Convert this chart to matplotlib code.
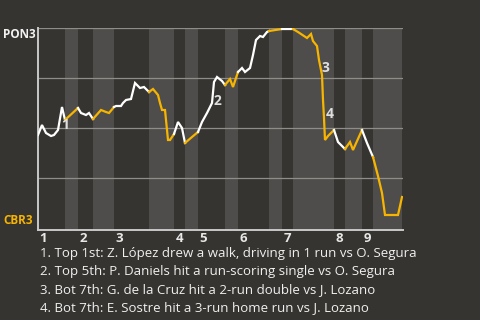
import matplotlib
matplotlib.use("Agg")
import matplotlib.pyplot as plt

# game progress (0 = first pitch) and PON3 win probability
prog = [0, 4, 8, 13, 16, 20, 24, 27,
        40, 43, 48, 51, 55,
        63, 68, 71, 76,
        78, 83, 85, 88, 93, 97, 102, 106, 111,
        115, 120, 122, 124, 127, 130, 132, 136,
        140, 144, 147,
        154, 160,
        164, 169, 174, 176, 179, 184, 187,
        192, 195, 200,
        204, 207, 212, 215, 218, 222, 225, 229, 231,
        244,
        255,
        260, 269, 273, 275, 279, 281, 284, 285, 286, 287, 290, 296,
        300, 307,
        312, 315, 324,
        329, 335,
        340, 344, 347, 360, 364]
wp = [0.465, 0.515, 0.475, 0.46, 0.465, 0.49, 0.605, 0.54,
      0.60, 0.575, 0.565, 0.575, 0.545,
      0.59, 0.58, 0.575, 0.605,
      0.61, 0.61, 0.625, 0.64, 0.645, 0.725, 0.70, 0.705, 0.68,
      0.695, 0.665, 0.625, 0.59, 0.59, 0.44, 0.44, 0.47,
      0.53, 0.50, 0.425,
      0.455, 0.48,
      0.53, 0.575, 0.625, 0.73, 0.755, 0.735, 0.715,
      0.745, 0.705, 0.78,
      0.80, 0.78, 0.80, 0.865, 0.94, 0.96, 0.955, 0.98, 0.985,
      0.995,
      0.995,
      0.98, 0.95, 0.97, 0.935, 0.91, 0.84, 0.765, 0.64, 0.55, 0.44, 0.46, 0.49,
      0.43, 0.395,
      0.43, 0.39, 0.49,
      0.425, 0.355,
      0.26, 0.175, 0.065, 0.065, 0.155]

# half-inning boundaries on the same progress scale (top, bottom, top, ...)
half_ends = [0, 27, 40, 55, 76, 111, 136, 147, 160, 187, 200, 231, 244,
             255, 296, 307, 324, 335, 364]
innings = ["1", "2", "3", "4", "5", "6", "7", "8", "9"]

# key plays: label, progress, win probability
key_labels = ["1", "2", "3", "4"]
key_prog = [27, 179, 287, 292]
key_wp = [0.515, 0.635, 0.80, 0.57]

notes = [
    "1. Top 1st: Z. López drew a walk, driving in 1 run vs O. Segura",
    "2. Top 5th: P. Daniels hit a run-scoring single vs O. Segura",
    "3. Bot 7th: G. de la Cruz hit a 2-run double vs J. Lozano",
    "4. Bot 7th: E. Sostre hit a 3-run home run vs J. Lozano",
]

bg = "#363430"
stripe = "#4e4d4b"
orange = "#f7b500"
plt.rcParams["font.family"] = ["Open Sans", "DejaVu Sans"]

fig = plt.figure(figsize=(4.8, 3.2), dpi=100, facecolor=bg)
ax = fig.add_axes([38 / 480, 1 - 230 / 320, 365 / 480, 202 / 320])
ax.set_facecolor(bg)
ax.set_xlim(0, 365)
ax.set_ylim(-0.01, 1.0)

for i in range(len(half_ends) - 1):
    if i % 2 == 1:
        ax.axvspan(half_ends[i], half_ends[i + 1], color=stripe, lw=0, zorder=0)

for g in [0.25, 0.5, 0.75, 1.0]:
    ax.axhline(g, color="#8e8d8a", lw=0.9, zorder=1)

# line coloured by the half inning: white for top, orange for bottom
for i in range(len(half_ends) - 1):
    a, b = half_ends[i], half_ends[i + 1]
    xs = [p for p in prog if a <= p <= b]
    ys = [w for p, w in zip(prog, wp) if a <= p <= b]
    ax.plot(xs, ys, color="white" if i % 2 == 0 else orange, lw=1.6,
            solid_joinstyle="miter", zorder=3)

for lab, x, y in zip(key_labels, key_prog, key_wp):
    ax.text(x, y, lab, color="#dedede", fontsize=10, fontweight="bold",
            ha="center", va="center", zorder=4)

for sp in ["top", "right"]:
    ax.spines[sp].set_visible(False)
for sp in ["left", "bottom"]:
    ax.spines[sp].set_color("#c9c9c9")
    ax.spines[sp].set_linewidth(1.4)
ax.set_xticks([])
ax.set_yticks([])

for k, lab in enumerate(innings):
    ax.text(half_ends[2 * k] + 1.5, -0.055, lab, color="#e8e8e8", fontsize=9.5,
            fontweight="bold", ha="left", va="center", clip_on=False)

fig.text(3 / 480, 1 - 35 / 320, "PON3", color="#f2f2f2", fontsize=8.5,
         fontweight="bold", ha="left", va="center")
fig.text(3 / 480, 1 - 221 / 320, "CBR3", color=orange, fontsize=8.5,
         fontweight="bold", ha="left", va="center")

for k, line in enumerate(notes):
    fig.text(40 / 480, 1 - (254 + 18 * k) / 320, line, color="#f0f0f0",
             fontsize=9.5, ha="left", va="center")

fig.savefig("out.png", dpi=100, facecolor=bg)
